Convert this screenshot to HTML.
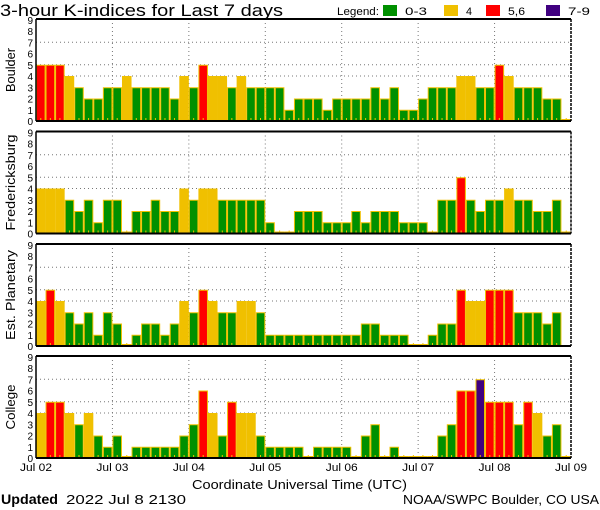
<!DOCTYPE html>
<html><head><meta charset="utf-8"><style>
html,body{margin:0;padding:0;background:#fff;width:600px;height:510px;overflow:hidden}
svg text{font-family:"Liberation Sans",sans-serif}
</style></head><body>
<svg id="s" width="600" height="510" viewBox="0 0 600 510" xmlns="http://www.w3.org/2000/svg"></svg>
<script>
const D=[
["Boulder",[5,5,5,4,3,2,2,3,3,4,3,3,3,3,2,4,3,5,4,4,3,4,3,3,3,3,1,2,2,2,1,2,2,2,2,3,2,3,1,1,2,3,3,3,4,4,3,3,5,4,3,3,3,2,2,0],44],
["Fredericksburg",[4,4,4,3,2,3,1,3,3,0,2,2,3,2,2,4,3,4,4,3,3,3,3,3,1,0,0,2,2,2,1,1,1,2,1,2,2,2,1,1,1,0,3,3,5,3,2,3,3,4,3,3,2,2,3,0],96],
["Est. Planetary",[4,5,4,3,2,3,1,3,2,0,1,2,2,1,2,4,3,5,4,3,3,4,4,3,1,1,1,1,1,1,1,1,1,1,2,2,1,1,1,0,0,1,2,2,5,4,4,5,5,5,3,3,3,2,3,null],90],
["College",[4,5,5,4,3,4,2,1,2,0,1,1,1,1,1,2,3,6,4,2,5,4,4,2,1,1,1,1,0,1,1,1,1,0,2,3,0,1,0,0,0,0,2,3,6,6,7,5,5,5,3,5,4,2,3,0],45]];
const tops=[19,131.5,244,356],H=102,L=36,R=571,W=(R-L)/56,U=11.25;
function col(v){return v<=3?"#009000":v==4?"#f0c000":v<=6?"#ff0000":"#400080"}
let s="";
s+=`<text x="0" y="16" font-size="17" textLength="283" lengthAdjust="spacingAndGlyphs">3-hour K-indices for Last 7 days</text>`;
s+=`<text x="337" y="15" font-size="11" textLength="42" lengthAdjust="spacingAndGlyphs">Legend:</text>`;
[["#009000",383,"0-3",22],["#f0c000",444,"4",6],["#ff0000",486,"5,6",17],["#400080",546,"7-9",22]].forEach(l=>{
s+=`<rect x="${l[1]}" y="5" width="14" height="11" fill="${l[0]}"/><text x="${l[1]+22}" y="15" font-size="11" textLength="${l[3]}" lengthAdjust="spacingAndGlyphs">${l[2]}</text>`;});
D.forEach((p,i)=>{
 const t=tops[i],b=t+H;
 [4,5,7].forEach(k=>{const y=b-k*U;s+=`<line x1="${L}" x2="${R}" y1="${y}" y2="${y}" stroke="#777" stroke-dasharray="1,3"/>`;});
 for(let d=1;d<7;d++){const x=L+d*8*W;s+=`<line x1="${x}" x2="${x}" y1="${t}" y2="${b}" stroke="#777" stroke-dasharray="1,3"/>`;}
 p[1].forEach((v,j)=>{
  if(v===null)return;
  const x=L+j*W,h=v==0?2:v*U;
  s+=`<rect x="${x+0.5}" y="${b-h+0.5}" width="${W-1}" height="${h-0.5}" fill="${col(v)}" stroke="#f0c000" stroke-width="1"/>`;
  s+=`<line x1="${x+W/2}" x2="${x+W/2}" y1="${b-3}" y2="${b}" stroke="#f0c000"/>`;
 });
 s+=`<line x1="${L}" x2="${R}" y1="${t}" y2="${t}" stroke="#000" stroke-width="2"/>`;
 s+=`<line x1="${L}" x2="${R}" y1="${b}" y2="${b}" stroke="#000" stroke-width="2"/>`;
 s+=`<line x1="${L}" x2="${L}" y1="${t}" y2="${b}" stroke="#000" stroke-width="1.5"/>`;
 s+=`<line x1="${R}" x2="${R}" y1="${t}" y2="${b}" stroke="#000" stroke-width="1.5" stroke-dasharray="3,1"/>`;
 for(let k=0;k<=9;k++){s+=`<text x="33" y="${b-k*U+4}" font-size="10" text-anchor="end">${k}</text>`;}
 s+=`<text transform="translate(${15},${t+H/2+p[2]/2}) rotate(-90)" font-size="13" textLength="${p[2]}" lengthAdjust="spacingAndGlyphs">${p[0]}</text>`;
});
["Jul 02","Jul 03","Jul 04","Jul 05","Jul 06","Jul 07","Jul 08","Jul 09"].forEach((d,i)=>{
 const c=L+i*8*W;
 s+=`<text x="${c-16}" y="471" font-size="11" textLength="32" lengthAdjust="spacingAndGlyphs">${d}</text>`;});
s+=`<text x="192" y="489" font-size="13" textLength="215" lengthAdjust="spacingAndGlyphs">Coordinate Universal Time (UTC)</text>`;
s+=`<text x="1" y="504" font-size="14" font-family="Liberation Serif,serif" font-weight="bold" textLength="57" lengthAdjust="spacingAndGlyphs">Updated</text>`;
s+=`<text x="66" y="504" font-size="13" textLength="120" lengthAdjust="spacingAndGlyphs">2022 Jul  8 2130</text>`;
s+=`<text x="403" y="504" font-size="13" textLength="196" lengthAdjust="spacingAndGlyphs">NOAA/SWPC Boulder, CO USA</text>`;
document.getElementById("s").innerHTML=s;
</script>
</body></html>
